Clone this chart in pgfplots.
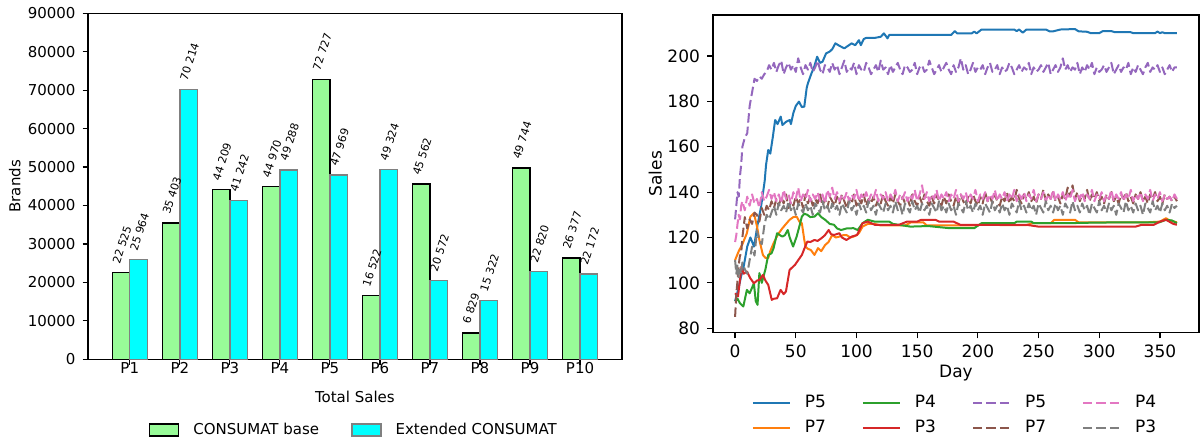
\documentclass[border=0pt]{standalone}
\usepackage{fontspec}
\setmainfont{DejaVu Sans}
\usepackage{pgfplots}
\usepackage{pgfplotstable}
\pgfplotsset{compat=1.18}

\definecolor{basegreen}{HTML}{98FB98}
\definecolor{extcyan}{HTML}{00FFFF}
\definecolor{baredge}{HTML}{808080}
\definecolor{tabblue}{HTML}{1F77B4}
\definecolor{taborange}{HTML}{FF7F0E}
\definecolor{tabgreen}{HTML}{2CA02C}
\definecolor{tabred}{HTML}{D62728}
\definecolor{tabpurple}{HTML}{9467BD}
\definecolor{tabbrown}{HTML}{8C564B}
\definecolor{tabpink}{HTML}{E377C2}
\definecolor{tabgray}{HTML}{7F7F7F}

\pgfplotsset{
  barleg/.style={legend image code/.code={\draw[##1] (0pt,-3pt) rectangle (14.5pt,3pt);}},
  lineleg/.style={legend image code/.code={\draw[##1] (0pt,0pt) -- (18.5pt,0pt);}},
  dashed line/.style={dash pattern=on 4.7pt off 2pt},
}

% total sales per product
\pgfplotstableread{
idx base ext
1  22525 25964
2  35403 70214
3  44209 41242
4  44970 49288
5  72727 47969
6  16522 49324
7  45562 20572
8  6829  15322
9  49744 22820
10 26377 22172
}\totalsales

% daily sales, extended model (dashed)
\pgfplotstableread{
day p5 p7 p4 p3
0 128 85 118 110
1 134 95 121 104
2 140 101 126 108
3 138 108 130 102
4 147 112 128 106
5 152 113 134 104
6 160 120 136 109
8 164 129 132 106
10 166 124 138 104
12 178 128 134 110
14 184 126 139 116
16 190 131 135 112
18 189 130 137 123
20 191 127 133 119
22 190 133 140 117
24 192 130 136 125
26 193 134 138 130
28 196 132 141 128
30 194 136 137 131
32 197 133 140 134
34 193 137 136 130
36 196 134 139 135
38 198 138 135 132
40 192 135 141 134
42 195 139 137 131
44 197 133 139 136
46 194 136 135 132
48 196 134 140 134
50 193 138 137 130
52 199 135 142 135
54 195 137 136 133
56 192 133 139 131
58 196 139 137 135
60 194 135 141 132
62 197 138 136 134
64 193 134 139 130
66 195 137 137 135
68 198 135 140 133
70 194 139 136 131
72 192 134 139 136
74 196 137 135 132
76 195 133 141 134
78 193 138 138 131
80 197 136 142 135
82 194 134 137 132
84 196 138 140 134
86 192 135 136 130
88 195 139 139 135
90 198 136 137 133
92 193 133 140 131
94 195 137 136 136
96 194 135 139 132
98 197 139 137 134
100 192 134 141 130
102 196 137 136 135
104 194 135 139 132
106 193 139 137 134
108 197 134 140 131
110 195 137 136 136
112 192 135 139 132
114 194 138 137 134
116 196 134 141 130
118 193 137 136 135
120 198 135 139 133
122 194 139 137 131
124 195 136 140 135
126 192 134 136 132
128 196 138 139 134
130 193 135 137 131
132 195 139 141 136
134 197 136 136 132
136 194 134 139 134
138 192 138 137 130
140 196 135 140 135
142 195 137 136 133
144 193 134 139 131
146 194 139 137 136
148 197 136 141 132
150 192 134 136 134
152 195 138 139 131
154 196 135 143 135
156 193 139 137 132
158 194 136 140 134
160 198 134 136 130
162 195 138 139 135
164 192 135 137 133
166 194 139 141 131
168 196 136 136 136
170 193 134 139 132
172 195 138 137 134
174 197 135 140 131
176 194 139 136 135
178 192 136 139 132
180 196 134 137 134
182 193 138 141 130
184 195 135 136 135
186 199 139 139 133
188 194 136 137 131
190 196 134 140 136
192 192 138 136 132
194 194 135 139 134
196 197 139 137 131
198 193 136 141 135
200 195 134 136 132
202 194 138 139 134
204 196 135 137 130
206 192 140 140 135
208 195 136 136 133
210 197 138 139 131
212 193 135 137 136
214 194 139 141 132
216 196 136 136 134
218 192 134 139 131
220 195 138 137 135
222 193 136 140 132
224 194 140 136 134
226 197 135 139 130
228 195 138 137 135
230 192 136 141 133
232 194 141 136 131
234 196 137 139 136
236 193 135 137 132
238 195 139 140 134
240 194 137 136 131
242 197 140 139 135
244 192 136 137 132
246 195 138 141 134
248 193 135 136 130
250 194 139 139 135
252 196 137 137 133
254 193 141 140 131
256 195 136 136 136
258 197 139 139 132
260 192 137 137 134
262 194 140 141 131
264 196 136 136 135
266 193 138 139 132
268 195 135 137 134
270 199 139 140 130
272 194 137 136 135
274 196 142 139 133
276 193 138 137 131
278 195 143 141 136
280 194 137 136 132
282 197 140 139 134
284 192 136 137 131
286 195 139 140 135
288 193 137 136 132
290 196 141 139 134
292 194 136 137 130
294 197 139 141 135
296 192 137 136 133
298 195 140 139 131
300 193 136 137 136
302 194 138 140 132
304 196 135 136 134
306 193 139 139 131
308 195 137 137 135
310 197 140 141 132
312 192 136 136 134
314 194 138 139 130
316 196 135 137 135
318 193 139 140 133
320 195 137 136 131
322 194 140 139 136
324 197 136 137 132
326 192 138 141 134
328 195 135 136 131
330 193 139 139 135
332 196 137 137 132
334 194 140 140 134
336 192 136 136 130
338 195 138 139 135
340 197 135 137 133
342 193 139 141 131
344 195 137 136 136
346 194 140 139 132
348 196 136 137 134
350 193 138 140 131
352 195 135 136 135
354 192 139 139 132
356 194 137 137 134
358 196 138 138 131
360 193 136 136 135
362 195 138 139 133
364 195 136 137 134
}\extdaily

\begin{document}
\begin{tikzpicture}
\useasboundingbox (0,0) rectangle (600pt,-222pt);

% ---------------- total sales bars ----------------
\begin{axis}[
  at={(44pt,-6.65pt)}, anchor=north west,
  scale only axis, width=266.9pt, height=173pt,
  xmin=0.165, xmax=10.835, ymin=0, ymax=90000,
  ybar,
  xtick={1,...,10},
  xticklabels={P1,P2,P3,P4,P5,P6,P7,P8,P9,P10},
  ytick={0,10000,...,90000},
  scaled y ticks=false,
  /pgf/number format/assume math mode=true,
  /pgf/number format/1000 sep={},
  tick align=outside, tick pos=left,
  major tick length=2.7pt,
  axis line style={line width=0.7pt},
  every tick/.style={black, line width=0.6pt},
  tick label style={font=\fontsize{7.5}{9}\selectfont},
  xticklabel style={yshift=4.5pt},
  xlabel={Total Sales}, ylabel={Brands},
  label style={font=\fontsize{7.5}{9}\selectfont},
  xlabel style={at={(axis description cs:0.5,-0.109)}, anchor=center},
  ylabel style={at={(axis description cs:-0.137,0.5)}, anchor=center},
  nodes near coords,
  every node near coord/.append style={
    font=\fontsize{5.5}{6}\selectfont, black,
    /pgf/number format/1000 sep={\ },
    /pgf/number format/fixed, /pgf/number format/precision=0,
    yshift=3pt, rotate=72, anchor=south west, inner sep=0.5pt},
  legend columns=2,
  legend style={at={(axis description cs:0.5,-0.204)}, anchor=center,
    draw=none, fill=none, font=\fontsize{7.5}{9}\selectfont,
    /tikz/every even column/.append style={column sep=14pt},
    /tikz/every odd column/.append style={column sep=5pt}},
]
\addplot[fill=basegreen, draw=black, line width=0.7pt,
  bar width=8.75pt, bar shift=-4.375pt, barleg]
  table[x=idx, y=base] {\totalsales};
\addlegendentry{CONSUMAT base}
\addplot[fill=extcyan, draw=baredge, line width=0.7pt,
  bar width=8.75pt, bar shift=4.375pt, barleg]
  table[x=idx, y=ext] {\totalsales};
\addlegendentry{Extended CONSUMAT}
\end{axis}

% ---------------- daily sales lines ----------------
\begin{axis}[
  at={(356.5pt,-7.5pt)}, anchor=north west,
  scale only axis, width=243pt, height=158.65pt,
  xmin=-18.2, xmax=382.2, ymin=78.2, ymax=218.1,
  xtick={0,50,...,350}, ytick={80,100,...,200},
  /pgf/number format/assume math mode=true,
  tick align=outside, tick pos=left,
  major tick length=3pt,
  axis line style={line width=0.6pt},
  every tick/.style={black, line width=0.6pt},
  tick label style={font=\fontsize{8.5}{10}\selectfont},
  xlabel={Day}, ylabel={Sales},
  label style={font=\fontsize{8.5}{10}\selectfont},
  xlabel style={at={(axis description cs:0.5,-0.128)}, anchor=center},
  ylabel style={at={(axis description cs:-0.119,0.5)}, anchor=center},
  legend columns=4,
  legend style={at={(axis description cs:0.5,-0.262)}, anchor=center,
    draw=none, fill=none, font=\fontsize{8.5}{10}\selectfont,
    row sep=1pt,
    /tikz/every even column/.append style={column sep=16pt},
    /tikz/every odd column/.append style={column sep=5pt}},
  every axis plot/.append style={line width=1pt, line join=round},
]
% legend, laid out column by column
\addlegendimage{lineleg, tabblue, line width=1pt}
\addlegendentry{P5}
\addlegendimage{lineleg, tabgreen, line width=1pt}
\addlegendentry{P4}
\addlegendimage{lineleg, tabpurple, line width=1pt, dashed line}
\addlegendentry{P5}
\addlegendimage{lineleg, tabpink, line width=1pt, dashed line}
\addlegendentry{P4}
\addlegendimage{lineleg, taborange, line width=1pt}
\addlegendentry{P7}
\addlegendimage{lineleg, tabred, line width=1pt}
\addlegendentry{P3}
\addlegendimage{lineleg, tabbrown, line width=1pt, dashed line}
\addlegendentry{P7}
\addlegendimage{lineleg, tabgray, line width=1pt, dashed line}
\addlegendentry{P3}

% base model, P5
\addplot[tabblue, forget plot] coordinates {
(0,92) (3,98) (5,103) (7,107) (10,116) (12.6,120) (15.6,116) (18.5,125.6)
(21.4,133.6) (24.4,145) (25.5,152) (27.3,158.6) (29,157) (31,164) (33,171.8)
(35,170) (37.6,173.3) (39,169.6) (42,171) (45,171.8) (46,170) (48,174.9)
(50,178) (52.6,179.9) (55,177.5) (57,177.7) (59,186) (60,188) (63,192.5)
(65,195) (67.6,199.7) (70,197) (72,197.5) (75,201.2) (78,202) (80,203)
(82.6,205.6) (86,204.5) (90,203.4) (93,204.5) (96,205.6) (99,204.8)
(102,207) (103.6,204.8) (106,207.5) (108,208) (115,208) (120,208.5)
(122.6,210) (125.6,207.8) (127,209.3) (130,209.3) (178,209.3) (181,211)
(183,210) (195,210) (197,210.8) (199,210) (203,211.7) (230,211.7) (232,211)
(234,211.7) (237,210.3) (240,211.7) (256,211.7) (259,210.9) (262,210.9)
(268,211.7) (280,211.9) (283,210.9) (290,210.7) (293,210.1) (300,210.1)
(303,211) (310,211) (313,210.5) (326,210.5) (328,210.1) (346,210.1)
(348,210.8) (350,210.1) (352,210.5) (354,210.1) (364,210.1)
};
% base model, P7
\addplot[taborange, forget plot] coordinates {
(0,110) (3,114) (6,117) (9.7,121.9) (12.6,129.2) (15.5,130.7) (18,125)
(20,118.9) (22.9,112.3) (25,111) (27.3,110.9) (29,114) (31.7,117.5) (34,120)
(36,121.9) (39,124.1) (42,126) (44.9,127.8) (48,129) (50.7,129.2) (53,127)
(55,126.3) (57,119) (58,116) (60,115) (62.4,114.5) (65.4,112.3) (68.3,115.3)
(71,114) (74.2,116.7) (77,118) (80,121.1) (83,120) (85.9,120.4) (89,121)
(91.7,121.1) (95,120) (97.6,120.4) (100,121) (102,121.9) (105,124.8)
(109.3,126) (115,126) (120,125.3) (140,125.3) (145,126.7) (155,126.7)
(158,125.3) (200,125.3) (205,126.3) (215,126.3) (218,125.5) (240,125.5)
(245,126.3) (260,126.3) (263,127.8) (280,127.8) (283,126.7) (340,126.7)
(350,127) (355,128.5) (358,127.5) (364,126.7)
};
% base model, P4
\addplot[tabgreen, forget plot] coordinates {
(0,91.8) (2,93) (4,91) (6.8,89.6) (9.7,96.9) (12,95.4) (15.5,99.8) (17,92)
(18.5,90.3) (20,104.3) (22,100) (25,106) (27.3,112.3) (30,113) (31.7,115.3)
(34.6,121.9) (37,121) (39,120.4) (41,121) (43.4,123.3) (45,120) (47.8,116)
(50.7,120.4) (53,125) (55,129.2) (57,130.5) (59.5,130) (62,129) (65.4,129.2)
(68.3,130.7) (71,129) (74.2,127.8) (78,126) (81.5,125.6) (84,124)
(87.3,123.3) (92,124) (97.6,124.1) (101,123.3) (105,126.3) (109.3,127.8)
(115,127) (127,127) (130,126) (144.5,124.8) (156,125) (160,125)
(176.7,124.1) (197,124.1) (203,126.3) (230,126.3) (232,127) (244,127)
(246,126.3) (273,126.3) (300,126.6) (349.6,126.7) (355,127.8) (360,127.5)
(364,126.3)
};
% base model, P3
\addplot[tabred, forget plot] coordinates {
(0,95.4) (2.4,94) (5.3,107.2) (7,104) (9.7,105) (12.6,102) (15.5,99.8)
(18,101) (20,101.3) (22.9,103.5) (25,101) (27.3,99.1) (30.2,92.5) (32,93)
(34.6,93.2) (37.5,96.9) (40,95) (41.9,96.2) (44.9,105.7) (49.3,107.9)
(52,110) (55,112.3) (57,115) (59.5,118.2) (62,118) (65.4,118.9) (68,118.5)
(71.2,119.7) (74,121) (77.1,123.3) (79,121.5) (81.5,121.1) (85.9,121.9)
(88,120) (91.7,118.9) (96.1,120.4) (100.5,121.1) (103,124) (105,126.3)
(109.3,127) (115,125.6) (135,125.6) (141.6,127) (150,127) (153.3,127.8)
(165,127.8) (168,127) (180,127) (185.5,125.6) (240,125.6) (250,124.8)
(330,124.8) (335,125.6) (345,125.6) (350,127) (355,127.8) (361,126)
(364,125.6)
};
% extended model
\addplot[tabpurple, dashed line, forget plot] table[x=day, y=p5] {\extdaily};
\addplot[tabbrown, dashed line, forget plot] table[x=day, y=p7] {\extdaily};
\addplot[tabpink, dashed line, forget plot] table[x=day, y=p4] {\extdaily};
\addplot[tabgray, dashed line, forget plot] table[x=day, y=p3] {\extdaily};
\end{axis}
\end{tikzpicture}
\end{document}
